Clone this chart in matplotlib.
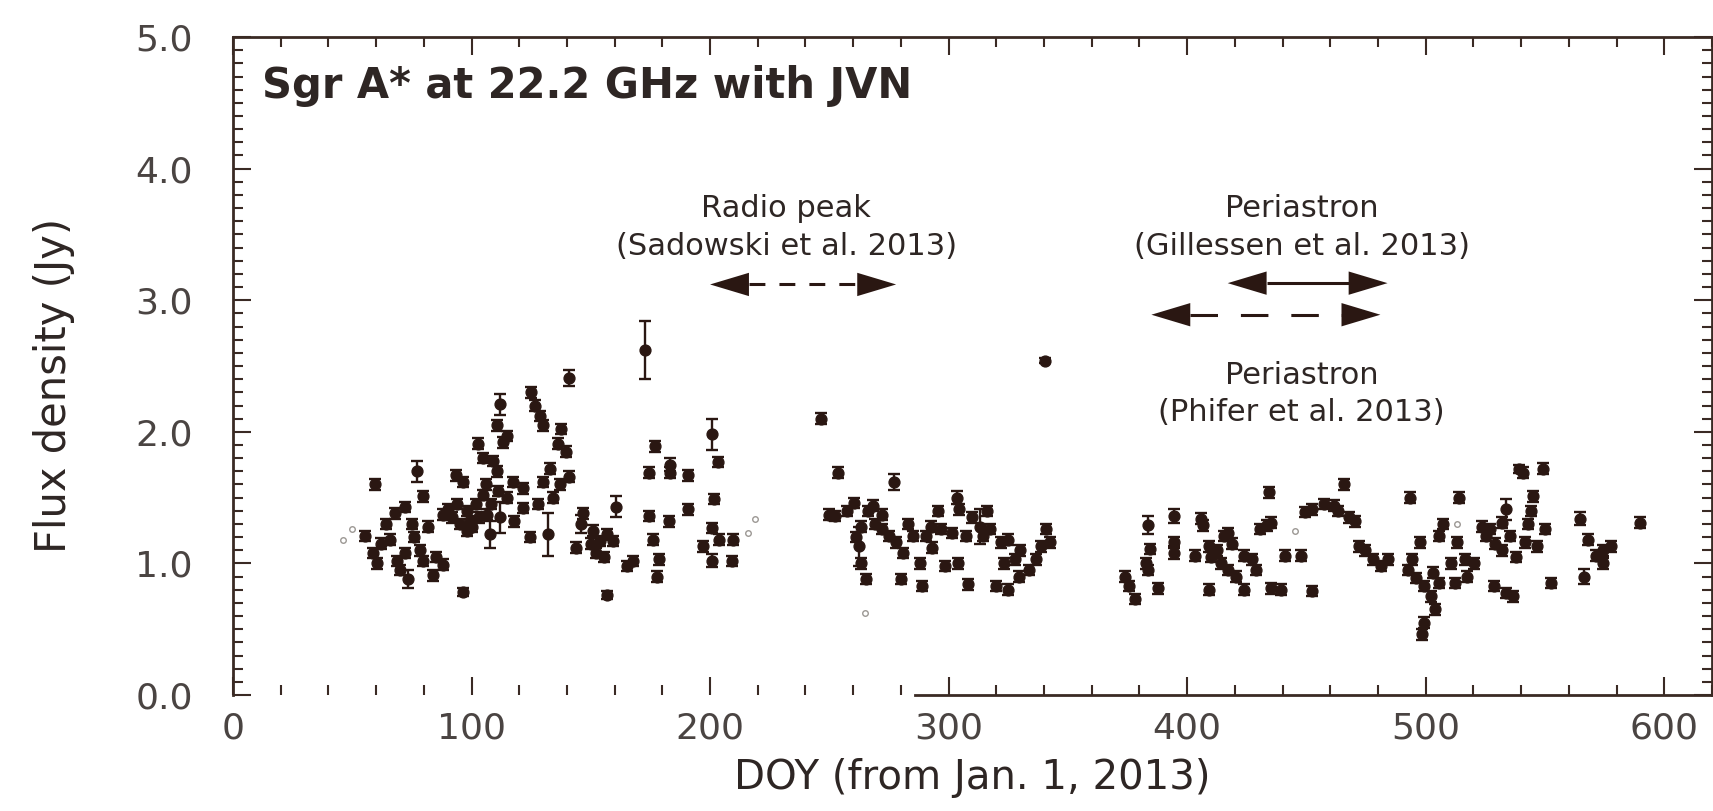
import matplotlib
matplotlib.use('Agg')
import matplotlib.pyplot as plt
from matplotlib.ticker import MultipleLocator, FormatStrFormatter

plt.rcParams['font.family'] = ['DejaVu Sans']

# Sgr A* 22.2 GHz flux densities (DOY, Jy, 1-sigma)
# 2013 spring season
doy_a = [59.5, 77, 79.8, 72, 64, 75, 81.8, 55.3, 58.8, 60.2, 68.6, 72, 78.3, 79.7, 84, 88, 73.5, 96.5, 66, 70, 62, 76, 85, 68,
         90, 88, 93.7, 96.5, 95, 97.9, 99.3, 102, 104.9, 106, 102.8, 104.9, 109, 110.5, 106.3, 107.7, 112, 110.5, 114.7, 113.3,
         117.5, 118, 121.6, 121.6, 92, 94, 100, 103, 108, 111, 115, 98, 112,
         125, 126.5, 128.6, 130, 137.7, 136.3, 139.8, 132.8, 130, 137, 141, 132, 124.4, 141, 128, 134,
         146.8, 144, 151, 154, 157, 159.3, 160.7, 155.7, 157, 167.7, 165, 150, 152, 146,
         172.6, 174.6, 174.6, 176.2, 178.6, 177.8, 182.6, 183.4, 190.6, 190.6, 201, 201.8, 201, 197, 201, 209.8, 209, 176.8,
         183, 203.5, 203.6]
flux_a = [1.60, 1.70, 1.51, 1.43, 1.30, 1.30, 1.28, 1.21, 1.08, 1.00, 1.02, 1.08, 1.10, 1.02, 0.91, 0.99, 0.88, 0.78, 1.18, 0.95, 1.15, 1.20, 1.05, 1.38,
          1.41, 1.37, 1.67, 1.62, 1.30, 1.25, 1.32, 1.45, 1.52, 1.60, 1.91, 1.80, 1.78, 1.70, 1.37, 1.22, 2.21, 2.05, 1.97, 1.92,
          1.62, 1.32, 1.57, 1.42, 1.35, 1.45, 1.28, 1.35, 1.45, 1.55, 1.50, 1.40, 1.35,
          2.30, 2.20, 2.12, 2.05, 2.02, 1.91, 1.85, 1.72, 1.62, 1.60, 1.66, 1.22, 1.20, 2.41, 1.45, 1.50,
          1.38, 1.12, 1.25, 1.17, 1.22, 1.17, 1.43, 1.05, 0.76, 1.02, 0.98, 1.15, 1.08, 1.30,
          2.62, 1.69, 1.36, 1.18, 1.03, 0.90, 1.32, 1.69, 1.67, 1.41, 1.98, 1.49, 1.27, 1.13, 1.02, 1.18, 1.02, 1.89,
          1.75, 1.77, 1.18]
err_a = [0.04, 0.08, 0.04, 0.04, 0.04, 0.04, 0.04, 0.04, 0.04, 0.04, 0.04, 0.04, 0.04, 0.04, 0.04, 0.04, 0.07, 0.03, 0.04, 0.04, 0.04, 0.04, 0.04, 0.04,
         0.04, 0.04, 0.04, 0.04, 0.04, 0.04, 0.04, 0.04, 0.04, 0.04, 0.04, 0.04, 0.04, 0.04, 0.04, 0.10, 0.08, 0.04, 0.04, 0.04,
         0.04, 0.04, 0.04, 0.04, 0.04, 0.04, 0.04, 0.04, 0.04, 0.04, 0.04, 0.04, 0.12,
         0.04, 0.04, 0.04, 0.04, 0.04, 0.04, 0.04, 0.04, 0.04, 0.04, 0.04, 0.16, 0.04, 0.06, 0.04, 0.04,
         0.04, 0.04, 0.04, 0.04, 0.04, 0.04, 0.08, 0.04, 0.03, 0.04, 0.04, 0.04, 0.04, 0.07,
         0.22, 0.04, 0.04, 0.04, 0.04, 0.04, 0.04, 0.04, 0.04, 0.04, 0.12, 0.04, 0.04, 0.04, 0.05, 0.04, 0.04, 0.04,
         0.05, 0.04, 0.04]

# 2013 autumn season
doy_b = [246.3, 253.6, 252.2, 257.3, 260.2, 268.3, 272, 277.1, 263.2, 262.4, 263.2, 265.4, 272, 275, 277.9, 280.8, 280, 285.2,
         288.2, 290.4, 292.6, 295.5, 297, 288.9, 298.4, 303.6, 304.3, 301.4, 307.2, 308, 313.1, 314.6, 317.5, 321.9, 324.9,
         323.4, 327.8, 319.7, 324.9, 329.3, 333.7, 336.6, 338.8, 341, 342.5, 340.3, 266, 269, 283, 261, 250, 293, 310, 316,
         330, 304]
flux_b = [2.10, 1.69, 1.36, 1.40, 1.46, 1.44, 1.37, 1.62, 1.28, 1.13, 1.00, 0.88, 1.26, 1.21, 1.16, 1.08, 0.88, 1.21,
          1.00, 1.21, 1.28, 1.40, 1.26, 0.83, 0.98, 1.50, 1.41, 1.23, 1.21, 0.84, 1.28, 1.21, 1.26, 1.16, 1.18,
          1.00, 1.03, 0.83, 0.80, 0.90, 0.95, 1.03, 1.13, 1.26, 1.16, 2.54, 1.40, 1.30, 1.30, 1.20, 1.37, 1.12, 1.35, 1.40,
          1.10, 1.00]
err_b = [0.04, 0.04, 0.04, 0.04, 0.04, 0.04, 0.04, 0.06, 0.04, 0.15, 0.04, 0.04, 0.04, 0.04, 0.04, 0.04, 0.04, 0.04,
         0.04, 0.04, 0.04, 0.04, 0.04, 0.04, 0.04, 0.05, 0.04, 0.04, 0.04, 0.04, 0.13, 0.04, 0.04, 0.04, 0.04,
         0.04, 0.04, 0.04, 0.04, 0.04, 0.04, 0.04, 0.04, 0.04, 0.04, 0.02, 0.04, 0.04, 0.04, 0.04, 0.04, 0.04, 0.04, 0.04,
         0.04, 0.04]

# 2014 spring season
doy_c = [378, 375.5, 373.9, 383.7, 382.9, 383.7, 394.3, 394.3, 394.3, 387.8, 405.8, 406.6, 403.3, 409, 412.3, 415.6, 417.3,
         414, 417.3, 409, 420.5, 423.8, 427.1, 423.8, 430.4, 433.6, 435.3, 428.7, 435.3, 439.4, 434.5, 441, 447.6, 452.5,
         449.2, 452.5, 457.4, 461.5, 465.6, 463.1, 468, 470.5, 472.1, 474.6, 481.1, 477.9, 484.4, 410, 419, 384.5]
flux_c = [0.73, 0.83, 0.90, 1.29, 1.00, 0.95, 1.36, 1.16, 1.08, 0.81, 1.34, 1.29, 1.06, 1.13, 1.10, 1.21, 1.23,
          1.00, 0.95, 0.80, 0.90, 1.06, 1.03, 0.80, 1.26, 1.29, 1.31, 0.95, 0.81, 0.80, 1.54, 1.06, 1.06, 0.79,
          1.39, 1.41, 1.45, 1.44, 1.60, 1.40, 1.35, 1.32, 1.13, 1.10, 0.98, 1.03, 1.03, 1.05, 1.15, 1.11]
err_c = [0.04, 0.04, 0.04, 0.07, 0.04, 0.04, 0.05, 0.04, 0.05, 0.04, 0.04, 0.04, 0.04, 0.04, 0.04, 0.04, 0.04,
         0.04, 0.04, 0.04, 0.04, 0.04, 0.04, 0.04, 0.04, 0.04, 0.04, 0.04, 0.04, 0.04, 0.04, 0.04, 0.04, 0.04,
         0.04, 0.04, 0.04, 0.04, 0.04, 0.04, 0.04, 0.04, 0.04, 0.04, 0.04, 0.04, 0.04, 0.04, 0.04, 0.04]

# 2014 summer / autumn
doy_d = [493.4, 497.5, 494.2, 492.6, 495.9, 499.2, 503.2, 505.7, 502.4, 504.1, 499.2, 498.3, 513.9, 507.3, 505.7, 513.1,
         516.4, 510.6, 517.2, 512.3, 520.4, 523.7, 527, 525.4, 528.6, 533.5, 536.8, 531.9, 535.2, 533.5, 531.9, 539.3,
         540.9, 549.1, 545, 544.2, 549.9, 546.7, 541.7, 552.4, 564.7, 568, 571.2, 574.5, 577.8, 566.3, 590, 574.5, 529,
         538, 543]
flux_d = [1.50, 1.16, 1.03, 0.95, 0.89, 0.83, 0.93, 0.85, 0.75, 0.65, 0.55, 0.46, 1.50, 1.30, 1.21, 1.16,
          1.03, 1.00, 0.90, 0.85, 1.00, 1.28, 1.26, 1.21, 0.83, 0.775, 0.75, 1.10, 1.21, 1.41, 1.31, 1.72,
          1.69, 1.72, 1.51, 1.40, 1.26, 1.13, 1.16, 0.85, 1.34, 1.18, 1.06, 1.10, 1.13, 0.90, 1.31, 1.00, 1.15,
          1.05, 1.30]
err_d = [0.04, 0.04, 0.04, 0.04, 0.04, 0.04, 0.04, 0.04, 0.04, 0.04, 0.04, 0.04, 0.04, 0.04, 0.04, 0.04,
         0.04, 0.04, 0.04, 0.04, 0.04, 0.04, 0.04, 0.04, 0.04, 0.04, 0.04, 0.04, 0.04, 0.08, 0.04, 0.03,
         0.04, 0.04, 0.04, 0.04, 0.04, 0.04, 0.04, 0.04, 0.05, 0.04, 0.04, 0.04, 0.04, 0.06, 0.04, 0.04, 0.04,
         0.04, 0.04]

# low-weight points drawn faint in the original
faint_doy = [46, 50, 216, 219, 265, 445, 513]
faint_flux = [1.18, 1.26, 1.23, 1.34, 0.62, 1.25, 1.30]

# event markers: arrow span (DOY), height (Jy) and dash pattern
arrow_x0 = [200, 417, 385]
arrow_x1 = [278, 484, 481]
arrow_y = [3.12, 3.13, 2.89]
arrow_ls = [(0, (5.2, 4.6)), '-', (0, (9, 7.5))]

ink = '#2a1712'
frame = '#3a2a24'
txt = '#2e2624'
ticktxt = '#4a4442'

doy = doy_a + doy_b + doy_c + doy_d
flux = flux_a + flux_b + flux_c + flux_d
flux_err = err_a + err_b + err_c + err_d

fig = plt.figure(figsize=(17.13, 8.11), dpi=100)
ax = fig.add_axes([0.136, 0.143, 0.8634, 0.8113])
ax.set_xlim(0, 620)
ax.set_ylim(0, 5)

ax.errorbar(doy, flux, yerr=flux_err, fmt='o', ms=7.8, color=ink, ecolor=ink,
            elinewidth=1.7, capsize=4.5, capthick=1.7, zorder=3)
ax.plot(faint_doy, faint_flux, ls='none', marker='o', ms=4, mfc='none',
        mec='#9c9894', mew=1, zorder=2)

# arrows: dashed/solid shaft between two solid filled heads
head_len, head_w, mscale = 1.4, 0.42, 20
px_unit = ax.transData.transform((1, 0))[0] - ax.transData.transform((0, 0))[0]
head_units = head_len * mscale / 72 * fig.dpi / px_unit
for x0, x1, y, ls in zip(arrow_x0, arrow_x1, arrow_y, arrow_ls):
    ax.plot([x0 + head_units, x1 - head_units], [y, y], ls=ls, lw=2.2, color=ink,
            dash_capstyle='butt', solid_capstyle='butt', zorder=4)
    for tip, back in ((x0, x0 + 25), (x1, x1 - 25)):
        ax.annotate('', xy=(tip, y), xytext=(back, y),
                    arrowprops=dict(arrowstyle='-|>,head_length=%g,head_width=%g' % (head_len, head_w),
                                    mutation_scale=mscale, lw=0, color=ink,
                                    shrinkA=0, shrinkB=0), zorder=4)

ann_size = 22
ax.text(232, 3.70, 'Radio peak', ha='center', va='center', fontsize=ann_size, color=txt)
ax.text(232, 3.41, '(Sadowski et al. 2013)', ha='center', va='center', fontsize=ann_size, color=txt)
ax.text(448, 3.70, 'Periastron', ha='center', va='center', fontsize=ann_size, color=txt)
ax.text(448, 3.41, '(Gillessen et al. 2013)', ha='center', va='center', fontsize=ann_size, color=txt)
ax.text(448, 2.43, 'Periastron', ha='center', va='center', fontsize=ann_size, color=txt)
ax.text(448, 2.15, '(Phifer et al. 2013)', ha='center', va='center', fontsize=ann_size, color=txt)

ax.text(0.0196, 0.926, 'Sgr A* at 22.2 GHz with JVN', transform=ax.transAxes,
        fontsize=30, fontweight='bold', va='center', ha='left', color=txt)

ax.xaxis.set_major_locator(MultipleLocator(100))
ax.xaxis.set_minor_locator(MultipleLocator(20))
ax.yaxis.set_major_locator(MultipleLocator(1))
ax.yaxis.set_minor_locator(MultipleLocator(0.1))
ax.yaxis.set_major_formatter(FormatStrFormatter('%.1f'))

ax.tick_params(which='both', direction='in', top=True, right=True, color=frame, width=1.5)
ax.tick_params(which='major', length=13)
ax.tick_params(which='minor', length=7)
ax.tick_params(axis='y', pad=29, labelsize=26, labelcolor=ticktxt)
ax.tick_params(axis='x', pad=12, labelsize=26, labelcolor=ticktxt)

for sp in ax.spines.values():
    sp.set_color(frame)
    sp.set_linewidth(2)
# the lower frame line is lost left of ~DOY 286 in the original print
ax.spines['bottom'].set_bounds(286, 620)

ax.set_xlabel('DOY (from Jan. 1, 2013)', fontsize=29, color=txt, labelpad=9)
ax.set_ylabel('Flux density (Jy)', fontsize=30, color=txt, labelpad=43, y=0.47)

fig.savefig('out.png', dpi=100)
